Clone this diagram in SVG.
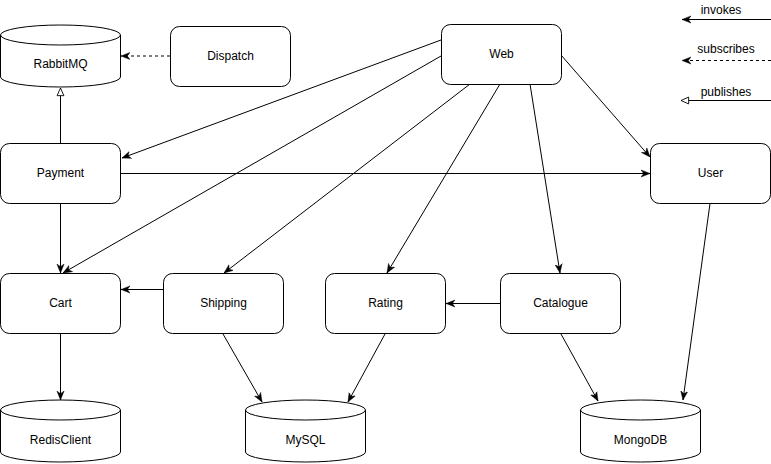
<svg xmlns="http://www.w3.org/2000/svg" width="771" height="464" viewBox="0 0 771 464">
<style>
.box{fill:#fff;stroke:#000;stroke-width:1}
.lbl{font-family:"Liberation Sans",Arial,sans-serif;font-size:12px;fill:#000;text-anchor:middle}
.e{fill:none;stroke:#000;stroke-width:1}
.inv{marker-end:url(#arr)}
.sub{marker-end:url(#arr);stroke-dasharray:3,3}
.pub{marker-end:url(#tri)}
</style>
<defs>
<marker id="arr" viewBox="0 0 10 10" refX="10" refY="5" markerWidth="9" markerHeight="9" orient="auto" markerUnits="userSpaceOnUse">
<path d="M0,1 L10,5 L0,9 L3,5 Z" fill="#000" stroke="#000" stroke-width="0.5"/>
</marker>
<marker id="tri" viewBox="0 0 10 10" refX="9.5" refY="5" markerWidth="9" markerHeight="9" orient="auto" markerUnits="userSpaceOnUse">
<path d="M1,1.2 L9.5,5 L1,8.8 Z" fill="#fff" stroke="#000" stroke-width="1"/>
</marker>
</defs>
<rect width="771" height="464" fill="#fff"/>
<g id="connectors">
<path class="e sub" d="M170,56 L121,56"/>
<path class="e pub" d="M60.5,143.5 L60.5,88"/>
<path class="e inv" d="M441,40 L122,158"/>
<path class="e inv" d="M441,56 L63,273"/>
<path class="e inv" d="M470,84 L224,273"/>
<path class="e inv" d="M500,84 L387,273"/>
<path class="e inv" d="M530,84 L560,273"/>
<path class="e inv" d="M561,55 L650,157"/>
<path class="e inv" d="M121,173.5 L650,173.5"/>
<path class="e inv" d="M60.5,203.5 L60.5,273"/>
<path class="e inv" d="M163,289.5 L121,289.5"/>
<path class="e inv" d="M500,303.5 L446,303.5"/>
<path class="e inv" d="M60.5,333.5 L60.5,400"/>
<path class="e inv" d="M223,334 L262,402"/>
<path class="e inv" d="M385,334 L348,402"/>
<path class="e inv" d="M561,334 L598,401"/>
<path class="e inv" d="M710,203.5 L683,400"/>
</g>
<g id="legend">
<path class="e inv" d="M771,19.5 L682,19.5"/>
<text class="lbl" x="721" y="14">invokes</text>
<path class="e sub" d="M771,60.5 L682,60.5"/>
<text class="lbl" x="726" y="53">subscribes</text>
<path class="e pub" d="M771,100.5 L681,100.5"/>
<text class="lbl" x="726" y="96">publishes</text>
</g>
<g id="RabbitMQ">
<path class="box" d="M0.5,35 A60,10 0 0 1 120.5,35 L120.5,77 A60,10 0 0 1 0.5,77 Z"/>
<path class="e" d="M0.5,35 A60,10 0 0 0 120.5,35"/>
<text class="lbl" x="60.5" y="68">RabbitMQ</text>
</g>
<g id="Dispatch">
<rect class="box" x="170.5" y="26.5" width="120" height="60" rx="9"/>
<text class="lbl" x="230.5" y="60">Dispatch</text>
</g>
<g id="Web">
<rect class="box" x="441.5" y="24.5" width="120" height="60" rx="9"/>
<text class="lbl" x="501.5" y="58">Web</text>
</g>
<g id="Payment">
<rect class="box" x="0.5" y="143.5" width="120" height="60" rx="9"/>
<text class="lbl" x="60.5" y="177">Payment</text>
</g>
<g id="User">
<rect class="box" x="650.5" y="143.5" width="120" height="60" rx="9"/>
<text class="lbl" x="710.5" y="177">User</text>
</g>
<g id="Cart">
<rect class="box" x="0.5" y="273.5" width="120" height="60" rx="9"/>
<text class="lbl" x="60.5" y="307">Cart</text>
</g>
<g id="Shipping">
<rect class="box" x="163.5" y="273.5" width="120" height="60" rx="9"/>
<text class="lbl" x="223.5" y="307">Shipping</text>
</g>
<g id="Rating">
<rect class="box" x="325.5" y="273.5" width="120" height="60" rx="9"/>
<text class="lbl" x="385.5" y="307">Rating</text>
</g>
<g id="Catalogue">
<rect class="box" x="500.5" y="273.5" width="120" height="60" rx="9"/>
<text class="lbl" x="560.5" y="307">Catalogue</text>
</g>
<g id="RedisClient">
<path class="box" d="M0.5,410 A60,10 0 0 1 120.5,410 L120.5,452 A60,10 0 0 1 0.5,452 Z"/>
<path class="e" d="M0.5,410 A60,10 0 0 0 120.5,410"/>
<text class="lbl" x="60.5" y="444">RedisClient</text>
</g>
<g id="MySQL">
<path class="box" d="M245.5,410 A60,10 0 0 1 365.5,410 L365.5,452 A60,10 0 0 1 245.5,452 Z"/>
<path class="e" d="M245.5,410 A60,10 0 0 0 365.5,410"/>
<text class="lbl" x="305.5" y="444">MySQL</text>
</g>
<g id="MongoDB">
<path class="box" d="M580.5,410 A60,10 0 0 1 700.5,410 L700.5,452 A60,10 0 0 1 580.5,452 Z"/>
<path class="e" d="M580.5,410 A60,10 0 0 0 700.5,410"/>
<text class="lbl" x="640.5" y="444">MongoDB</text>
</g>
</svg>
